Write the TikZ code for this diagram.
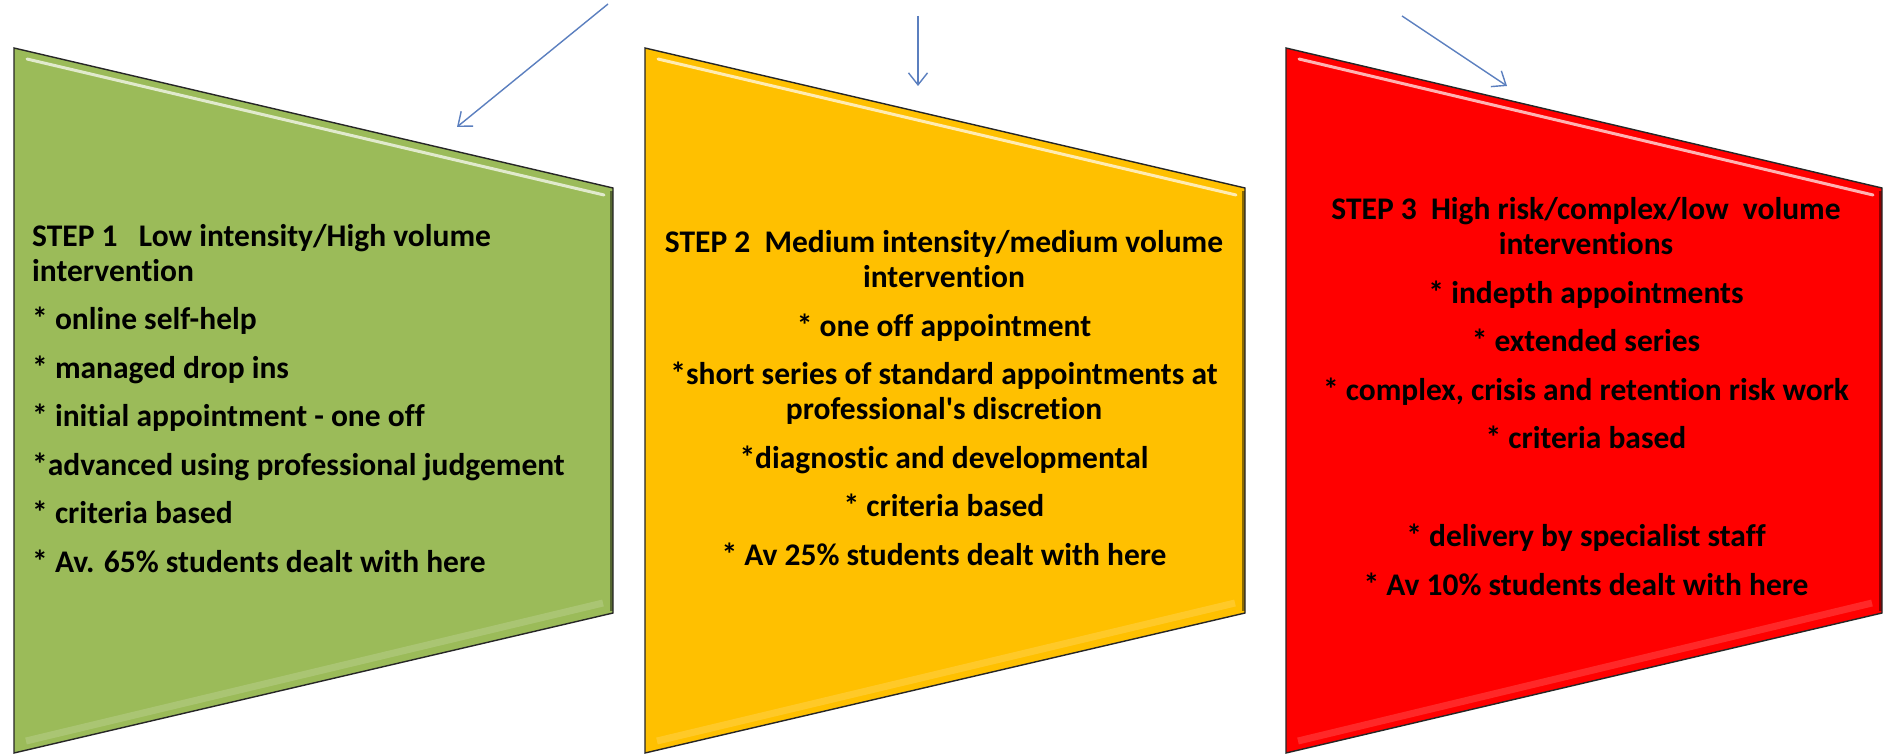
\documentclass[tikz,border=0pt]{standalone}
\usepackage{fontspec}
\setmainfont{Carlito}[Ligatures={TeXOff,CommonOff}]
\usetikzlibrary{arrows.meta}
\definecolor{gfill}{HTML}{9BBB59}
\definecolor{yfill}{HTML}{FFC000}
\definecolor{rfill}{HTML}{FF0000}
\definecolor{arrowblue}{HTML}{5B7FBF}
\newcommand\stepshape[3]{%
  \fill[#3] (#1,48) -- (#2,188) -- (#2,613) -- (#1,753) -- cycle;
  \draw[#3!65!white, line width=7pt, opacity=0.45] (#1+12,741) -- (#2-10,603);
  \draw[white, line width=3pt, opacity=0.7, line cap=round] (#1+13,59) -- (#2-9,195);
  \draw[#3!55!black, line width=3pt] (#2-2,191) -- (#2-2,611);
  \draw[black!85, line width=1.4pt, line join=miter] (#1,48) -- (#2,188) -- (#2,613) -- (#1,753) -- cycle;
}
\tikzset{
  txt/.style={inner sep=0pt, font=\fontsize{31.5}{35}\selectfont\bfseries, text=black},
  conn/.style={draw=arrowblue, line width=1.4pt, -{Straight Barb[length=12pt,width=19pt,line width=1.4pt]}}
}
\begin{document}
\begin{tikzpicture}[x=1pt,y=-1pt]
\useasboundingbox (0,0) rectangle (1884,754);
\fill[white] (0,0) rectangle (1884,754);
\stepshape{14}{613}{gfill}
\stepshape{645}{1245}{yfill}
\stepshape{1286}{1882}{rfill}

\node[txt, anchor=base west, align=left] (t1) at (32,572) {STEP 1\ \ \ Low intensity/High volume\\
intervention\\[13.5pt]
* online self-help\\[13.5pt]
* managed drop ins\\[13.5pt]
* initial appointment - one off\\[13.5pt]
*advanced using professional judgement\\[13.5pt]
* criteria based\\[13.5pt]
* Av. 65\% students dealt with here};

\node[txt, anchor=base, align=center] (t2) at (944,565) {STEP 2\ \ Medium intensity/medium volume\\
intervention\\[13.5pt]
* one off appointment\\[13.5pt]
*short series of standard appointments at\\
professional's discretion\\[13.5pt]
*diagnostic and developmental\\[13.5pt]
* criteria based\\[13.5pt]
* Av 25\% students dealt with here};

\node[txt, anchor=base, align=center] (t3) at (1586,595) {STEP 3\ \ High risk/complex/low\ \ volume\\
interventions\\[13.5pt]
* indepth appointments\\[13.5pt]
* extended series\\[13.5pt]
* complex, crisis and retention risk work\\[13.5pt]
* criteria based\\[63pt]
* delivery by specialist staff\\[13.5pt]
* Av 10\% students dealt with here};

\coordinate (a1s) at (608,4);
\coordinate (a1e) at (457,127);
\coordinate (a2s) at (918,16);
\coordinate (a2e) at (918,86);
\coordinate (a3s) at (1402,16);
\coordinate (a3e) at (1507,86);
\draw[conn] (a1s) -- (a1e);
\draw[conn] (a2s) -- (a2e);
\draw[conn] (a3s) -- (a3e);
\end{tikzpicture}
\end{document}
